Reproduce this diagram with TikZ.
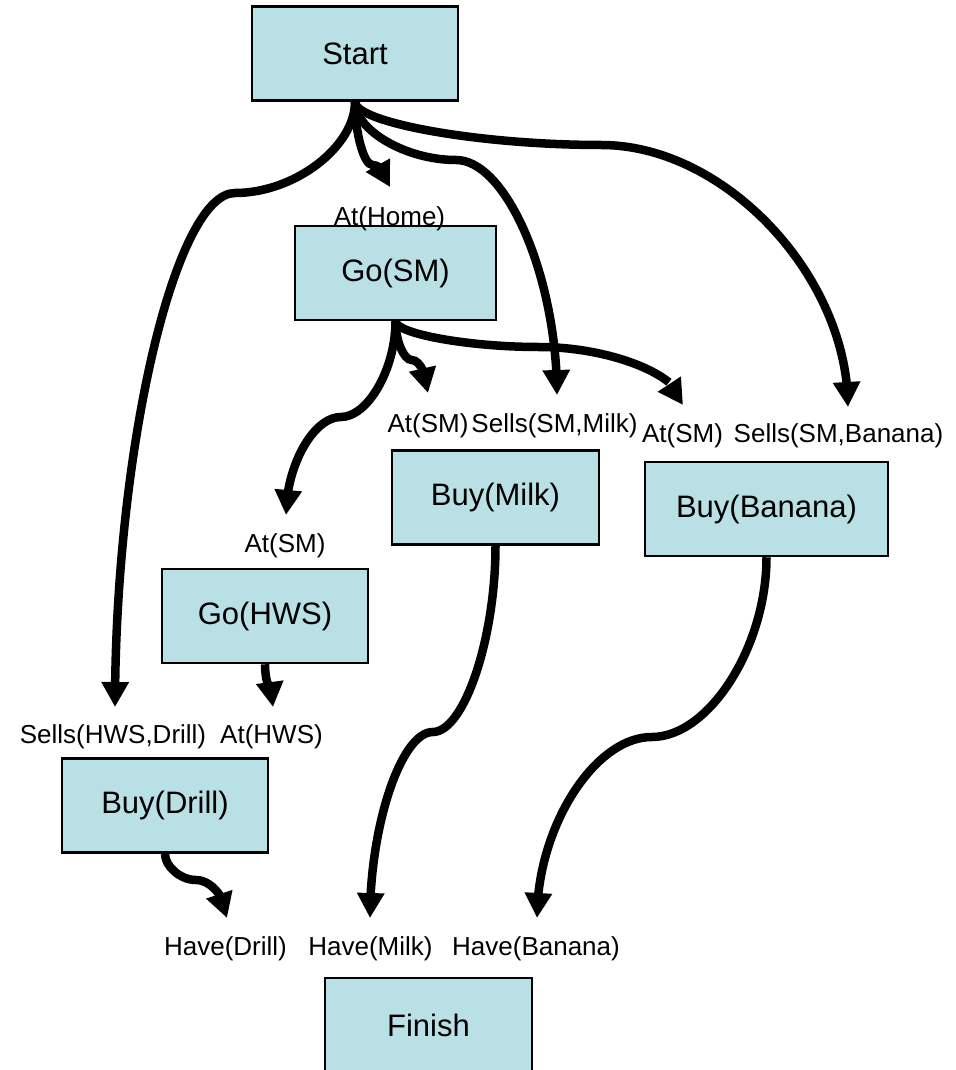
\documentclass[tikz,border=0pt]{standalone}
\usepackage{fontspec}
\setmainfont{Liberation Sans}
\usetikzlibrary{arrows.meta,bending}
\definecolor{boxfill}{RGB}{185,224,228}
\begin{document}
\begin{tikzpicture}[x=1pt,y=-1pt,
  action/.style={draw=black, line width=2.5pt, fill=boxfill, inner sep=0pt,
    minimum height=94pt, font=\fontsize{31pt}{37pt}\selectfont},
  cond/.style={anchor=base, inner sep=0pt, font=\fontsize{26pt}{31pt}\selectfont},
  link/.style={line width=8.5pt, -{Triangle[length=25pt,width=26pt,flex]}}]
\useasboundingbox (0,0) rectangle (955,1070);

% actions of the plan
\node[action, minimum width=206pt] (start)  at (355,53.5)  {Start};
\node[action, minimum width=201pt] (gosm)   at (395.5,273) {Go(SM)};
\node[action, minimum width=207pt] (milk)   at (495.5,497.5) {Buy(Milk)};
\node[action, minimum width=243pt] (banana) at (766.5,509) {Buy(Banana)};
\node[action, minimum width=206pt] (gohws)  at (265,616)   {Go(HWS)};
\node[action, minimum width=206pt] (drill)  at (165,805.5) {Buy(Drill)};
\node[action, minimum width=207pt] (finish) at (428.5,1025) {Finish};

% arrow ends, just above the preconditions they support
\coordinate (pDrillSells) at (115,707);
\coordinate (pHome)       at (390,187);
\coordinate (pMilkSells)  at (557,395);
\coordinate (pBanSells)   at (848,407);
\coordinate (pHwsAtSM)    at (286,515);
\coordinate (pMilkAtSM)   at (428,393);
\coordinate (pBanAtSM)    at (683,405);
\coordinate (pHaveMilk)   at (370,918);
\coordinate (pHaveBan)    at (537,918);
\coordinate (pAtHWS)      at (273,707);
\coordinate (pHaveDrill)  at (227,918);

% causal links: each is a two-piece curve, vertical at both ends
\draw[link] (start.south) .. controls (355,146.5) and (295,193) .. (235,193)
  .. controls (175,193) and (115,450) .. (pDrillSells);
\draw[link] (start.south) .. controls (355,132.5) and (363.75,165) .. (372.5,165)
  .. controls (381.25,165) and (390,176) .. (pHome);
\draw[link] (start.south) .. controls (355,130) and (405.5,160) .. (456,160)
  .. controls (506.5,160) and (557,277.5) .. (pMilkSells);
\draw[link] (start.south) .. controls (355,122.5) and (478.25,145) .. (601.5,145)
  .. controls (724.75,145) and (848,276) .. (pBanSells);
\draw[link] (gosm.south) .. controls (395.5,368.5) and (368.1,417) .. (340.75,417)
  .. controls (313.4,417) and (286,466) .. (pHwsAtSM);
\draw[link] (gosm.south) .. controls (395.5,340) and (403.6,360) .. (411.75,360)
  .. controls (419.9,360) and (428,376.5) .. (pMilkAtSM);
\draw[link] (gosm.south) .. controls (395.5,333.5) and (467.4,347) .. (539.25,347)
  .. controls (611.1,347) and (683,376) .. (pBanAtSM);
\draw[link] (milk.south) .. controls (495.5,638.5) and (464.1,732) .. (432.75,732)
  .. controls (401.4,732) and (370,825) .. (pHaveMilk);
\draw[link] (banana.south) .. controls (766.5,646.5) and (709.1,737) .. (651.75,737)
  .. controls (594.4,737) and (537,827.5) .. (pHaveBan);
\draw[link] (gohws.south) .. controls (265,674) and (267,685) .. (269,685)
  .. controls (271,685) and (273,696) .. (pAtHWS);
\draw[link] (drill.south) .. controls (165,866.5) and (180.5,880) .. (196,880)
  .. controls (211.5,880) and (227,899) .. (pHaveDrill);

% preconditions
\node[cond] (cHome)      at (389.5,225) {At(Home)};
\node[cond] (cMilkAt)    at (428,432)   {At(SM)};
\node[cond] (cMilkSells) at (554.5,432) {Sells(SM,Milk)};
\node[cond] (cBanAt)     at (682.5,442) {At(SM)};
\node[cond] (cBanSells)  at (838.5,442) {Sells(SM,Banana)};
\node[cond] (cHwsAt)     at (285,552)   {At(SM)};
\node[cond] (cDrillSells) at (113,743)  {Sells(HWS,Drill)};
\node[cond] (cAtHWS)     at (271.5,743) {At(HWS)};
\node[cond] (cHaveDrill) at (225.5,955) {Have(Drill)};
\node[cond] (cHaveMilk)  at (370.5,955) {Have(Milk)};
\node[cond] (cHaveBan)   at (536,955)   {Have(Banana)};
\end{tikzpicture}
\end{document}
